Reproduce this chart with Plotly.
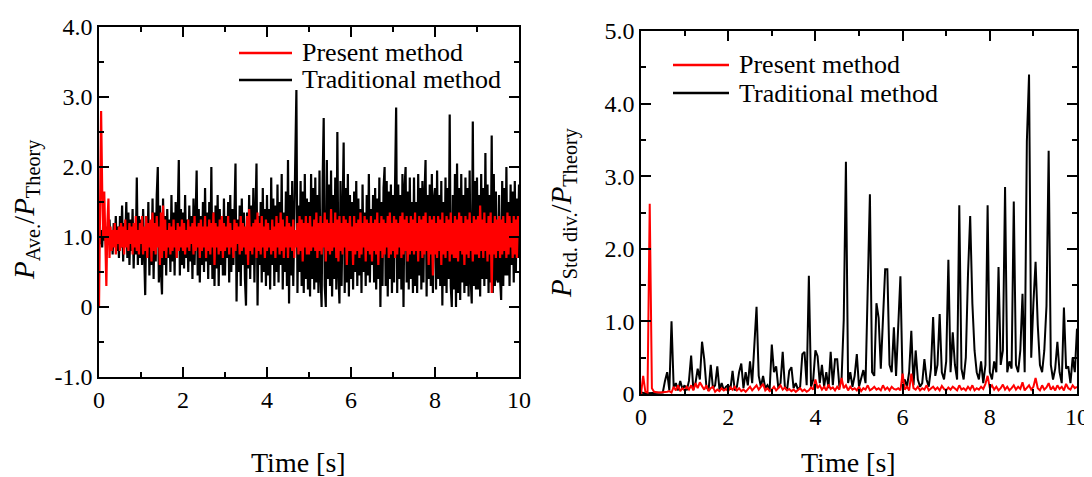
import numpy as np
import plotly.graph_objects as go

FONT = "Liberation Serif"

# ---------------- data ----------------
time_ave = np.linspace(0, 10, 401)  # sampling grid of the left panel, 0.025 s
time_std = np.linspace(0, 10, 201)  # sampling grid of the right panel, 0.05 s

ave_traditional = [
    1.0, 0.9, 1.1, 0.85, 1.2, 0.95, 1.05, 0.8, 1.15, 0.9, 1.25, 0.85, 1.1, 0.75, 1.2, 0.9, 1.3, 0.8, 1.15, 0.7,
    1.3, 0.85, 1.45, 0.65, 1.2, 0.9, 1.5, 0.7, 1.35, 0.6, 1.25, 0.8, 1.4, 0.55, 1.2, 0.75, 1.85, 0.6, 1.3, 0.7,
    1.25, 0.6, 1.4, 0.5, 0.17, 1.3, 0.7, 1.5, 0.45, 1.2, 0.6, 1.55, 0.4, 1.35, 0.65, 1.6, 2.0, 0.35, 1.45, 0.5,
    0.18, 1.55, 0.6, 1.3, 0.45, 1.4, 0.7, 1.25, 0.5, 1.6, 0.65, 1.35, 0.45, 1.5, 0.7, 1.3, 2.1, 0.45, 1.4, 0.6,
    1.35, 0.55, 1.6, 0.7, 1.25, 0.5, 1.45, 0.65, 1.3, 0.4, 1.55, 0.6, 1.2, 1.95, 0.45, 1.4, 0.35, 1.3, 0.6, 1.5,
    0.5, 1.7, 0.65, 1.35, 0.4, 1.5, 0.6, 2.0, 0.4, 1.35, 0.3, 1.45, 0.55, 1.6, 0.3, 1.4, 0.6, 1.3, 0.45, 1.55,
    0.45, 1.3, 0.7, 1.5, 0.35, 1.6, 0.5, 1.4, 0.6, 1.25, 2.05, 0.08, 1.25, 0.5, 1.45, 0.3, 1.55, 0.6, 1.35, 0.4,
    0.02, 1.35, 0.55, 1.6, 0.4, 1.45, 0.6, 1.7, 0.35, 1.3, 2.05, 0.02, 1.3, 0.6, 1.5, 0.35, 1.7, 0.5, 1.4, 0.3,
    1.6, 0.45, 1.4, 0.25, 1.85, 0.6, 1.55, 0.3, 1.45, 0.5, 1.75, 0.35, 1.5, 0.6, 1.9, 0.25, 1.35, 0.5, 1.65, 0.3,
    2.1, 0.05, 1.6, 0.45, 1.8, 0.3, 1.5, 2.5, 3.1, 0.2, 1.45, 0.5, 1.8, 0.3, 1.65, 0.2, 1.9, 0.4, 1.55, 0.25,
    1.5, 0.15, 1.9, 0.4, 1.7, 0.25, 1.85, 0.35, 1.6, 0.2, 1.95, 0.45, 0.0, 1.8, 2.7, 0.3, 0.0, 2.1, 0.4, 1.75,
    0.3, 1.95, 0.15, 1.6, 0.4, 1.85, 0.25, 2.5, 0.5, 0.05, 1.8, 0.3, 1.7, 2.35, 0.2, 1.7, 0.35, 1.9, 0.15, 1.6,
    0.4, 1.5, 0.25, 1.65, 0.5, 1.8, 0.3, 1.55, 0.45, 1.4, 0.2, 1.75, 0.5, 1.35, 0.3, 1.6, 0.45, 1.9, 0.35, 1.4,
    0.6, 1.6, 0.35, 1.7, 0.25, 1.55, 0.4, 1.85, 0.0, 1.5, 0.3, 1.7, 2.0, 0.3, 1.8, 0.15, 1.65, 0.4, 1.75, 0.2,
    1.6, 0.35, 1.8, 2.85, 0.2, 1.75, 0.4, 1.6, 0.25, 1.9, 0.0, 1.7, 2.0, 0.35, 1.65, 0.25, 1.85, 0.4, 1.5, 0.2,
    1.85, 0.3, 1.5, 0.2, 1.9, 0.45, 1.7, 0.25, 1.8, 0.35, 1.6, 2.1, 0.15, 1.6, 0.4, 1.75, 0.3, 1.9, 0.2, 1.55,
    1.7, 0.25, 1.95, 0.4, 1.6, 0.3, 1.8, 0.02, 1.5, 0.3, 1.85, 0.2, 1.7, 0.4, 2.75, 0.3, 0.0, 1.6, 0.25, 1.9,
    0.0, 2.05, 0.2, 1.7, 0.1, 1.9, 0.35, 1.6, 0.2, 1.85, 0.3, 1.7, 0.15, 1.95, 0.4, 0.05, 2.65, 0.3, 1.8, 0.25,
    1.85, 0.25, 1.6, 0.15, 1.9, 0.4, 1.7, 0.3, 2.2, 0.4, 1.75, 0.2, 1.6, 0.35, 2.45, 0.2, 1.9, 0.3, 1.65, 0.4,
    0.35, 1.6, 0.4, 0.1, 1.8, 0.3, 1.7, 0.45, 2.0, 0.45, 1.5, 0.3, 1.75, 0.6, 1.65, 0.35, 1.8, 0.5, 1.55, 0.7,
    1.75,
]

ave_present = [
    0.0, 1.8, 2.8, 1.7, 1.0, 1.65, 0.6, 0.3, 1.2, 1.55, 0.7, 1.15, 0.8, 1.1, 0.85, 1.2, 0.75, 1.1, 0.9, 1.15,
    0.8, 1.2, 0.85, 1.15, 0.75, 1.25, 0.85, 1.1, 0.8, 1.2, 0.9, 1.15, 0.75, 1.2, 0.85, 1.3, 0.8, 1.1, 0.75, 1.2,
    0.9, 1.3, 0.75, 1.15, 0.8, 1.3, 0.7, 1.2, 0.85, 1.25, 0.65, 1.35, 0.8, 1.2, 0.75, 1.3, 0.85, 1.15, 0.6, 1.35,
    0.7, 1.45, 0.8, 1.25, 0.7, 1.1, 0.85, 1.2, 0.75, 1.15, 0.8, 1.25, 0.85, 1.1, 0.7, 1.2, 0.8, 1.15, 0.85, 1.25,
    0.8, 1.2, 0.75, 1.1, 0.85, 1.25, 0.8, 1.15, 0.9, 1.2, 0.75, 1.3, 0.8, 1.15, 0.85, 1.2, 0.7, 1.25, 0.8, 1.15,
    0.85, 1.3, 0.7, 1.15, 0.8, 1.25, 0.75, 1.2, 0.85, 1.35, 0.6, 1.2, 0.85, 1.15, 0.75, 1.25, 0.8, 1.3, 0.7, 1.2,
    0.8, 1.15, 0.85, 1.3, 0.75, 1.2, 0.85, 1.1, 0.7, 1.25, 0.8, 1.2, 0.9, 1.15, 0.75, 1.3, 0.8, 1.2, 0.85, 1.15,
    0.75, 1.3, 0.6, 1.4, 0.8, 1.15, 0.75, 1.2, 0.85, 1.25, 0.7, 1.35, 0.8, 1.2, 0.75, 1.3, 0.85, 1.15, 0.7, 1.25,
    0.8, 1.2, 0.85, 1.1, 0.75, 1.25, 0.8, 1.15, 0.7, 1.3, 0.85, 1.2, 0.75, 1.35, 0.8, 1.25, 0.7, 1.15, 0.85, 1.3,
    0.7, 1.2, 0.85, 1.15, 0.8, 1.25, 0.7, 1.1, 0.85, 1.2, 0.75, 1.3, 0.8, 1.25, 0.65, 1.2, 0.85, 1.3, 0.75, 1.2,
    0.75, 1.3, 0.8, 1.15, 0.85, 1.25, 0.8, 1.35, 0.7, 1.2, 0.8, 1.3, 0.75, 1.2, 0.85, 1.35, 0.65, 1.25, 0.8, 1.2,
    0.75, 1.4, 0.8, 1.2, 0.85, 1.35, 0.7, 1.25, 0.65, 1.3, 0.8, 1.2, 0.75, 1.3, 0.85, 1.25, 0.6, 1.2, 0.8, 1.3,
    0.8, 1.15, 0.6, 1.3, 0.75, 1.2, 0.8, 1.25, 0.7, 1.35, 0.75, 1.2, 0.85, 1.3, 0.65, 1.25, 0.8, 1.2, 0.75, 1.3,
    0.65, 1.2, 0.8, 1.25, 0.75, 1.35, 0.6, 1.2, 0.8, 1.3, 0.7, 1.25, 0.75, 1.2, 0.85, 1.3, 0.7, 1.35, 0.75, 1.2,
    0.8, 1.3, 0.7, 1.25, 0.75, 1.2, 0.85, 1.3, 0.7, 1.35, 0.75, 1.25, 0.8, 1.3, 0.65, 1.2, 0.75, 1.3, 0.8, 1.25,
    0.75, 1.35, 0.8, 1.2, 0.65, 1.3, 0.8, 1.25, 0.7, 1.3, 0.75, 1.35, 0.8, 1.2, 0.6, 1.3, 0.75, 1.25, 0.45, 1.3,
    0.75, 1.2, 0.7, 1.3, 0.8, 1.25, 0.6, 1.35, 0.75, 1.2, 0.7, 1.3, 0.8, 1.25, 0.65, 1.35, 0.75, 1.2, 0.7, 1.3,
    0.7, 1.25, 0.65, 1.35, 0.8, 1.3, 0.75, 1.2, 0.6, 1.3, 0.75, 1.25, 0.7, 1.35, 0.8, 1.2, 0.65, 1.3, 0.75, 1.25,
    0.75, 1.3, 0.7, 1.45, 0.8, 1.25, 0.7, 1.35, 0.8, 1.2, 0.65, 1.3, 0.75, 1.35, 0.2, 1.2, 0.75, 1.3, 0.7, 1.25,
    0.8, 1.3, 0.7, 1.25, 0.75, 1.3, 0.8, 1.2, 0.7, 1.35, 0.75, 1.3, 0.85, 1.2, 0.7, 1.3, 0.75, 1.25, 0.7, 1.3,
    1.0,
]

std_traditional = [
    0.02, 0.01, 0.01, 0.01, 0.01, 0.01, 0.01, 0.01, 0.01, 0.01,
    0.02, 0.18, 0.3, 0.05, 1.0, 0.08, 0.15, 0.05, 0.18, 0.07,
    0.12, 0.05, 0.18, 0.53, 0.06, 0.15, 0.35, 0.2, 0.72, 0.48,
    0.1, 0.05, 0.4, 0.08, 0.12, 0.38, 0.06, 0.15, 0.05, 0.1,
    0.12, 0.06, 0.32, 0.05, 0.1, 0.3, 0.42, 0.08, 0.3, 0.12,
    0.45, 0.15, 0.7, 1.2, 0.25, 0.1, 0.25, 0.08, 0.12, 0.05,
    0.68, 0.3, 0.38, 0.08, 0.15, 0.58, 0.1, 0.05, 0.32, 0.37,
    0.08, 0.15, 0.06, 0.1, 0.55, 0.58, 0.12, 1.63, 0.1, 0.2,
    0.6, 0.52, 0.15, 0.4, 0.1, 0.3, 0.08, 0.58, 0.12, 0.48,
    0.48, 0.1, 0.2, 1.02, 3.2, 0.15, 0.3, 0.1, 0.25, 0.55,
    0.1, 0.2, 0.33, 0.15, 1.47, 2.75, 0.3, 0.25, 1.25, 1.05,
    0.35, 0.95, 1.72, 1.72, 0.4, 0.3, 0.92, 0.25, 0.9, 1.62,
    0.15, 0.2, 0.1, 0.3, 0.87, 0.12, 0.6, 0.2, 0.1, 0.15,
    0.48, 0.2, 0.1, 0.35, 1.06, 0.25, 0.4, 1.1, 0.3, 0.2,
    0.45, 1.85, 0.3, 0.85, 0.4, 0.2, 2.6, 0.35, 0.2, 0.5,
    1.65, 2.45, 1.25, 0.6, 0.3, 0.2, 0.45, 0.15, 0.4, 2.6,
    0.3, 0.2, 0.45, 0.3, 1.75, 0.4, 0.6, 2.85, 0.3, 0.45,
    0.35, 2.65, 0.4, 0.3, 0.6, 1.38, 0.3, 3.48, 4.4, 0.5,
    1.25, 1.82, 0.95, 0.4, 0.3, 0.6, 1.21, 3.35, 0.4, 0.2,
    0.35, 0.72, 0.3, 0.15, 1.19, 0.35, 0.38, 0.15, 0.5, 0.3,
    0.9,
]

std_present = [
    0.0, 0.25, 0.03, 0.02, 2.62, 0.08, 0.03, 0.02, 0.02, 0.02,
    0.02, 0.02, 0.03, 0.04, 0.02, 0.1, 0.05, 0.12, 0.04, 0.08,
    0.05, 0.1, 0.06, 0.12, 0.05, 0.15, 0.08, 0.16, 0.1, 0.06,
    0.12, 0.04, 0.08, 0.1, 0.03, 0.06, 0.04, 0.08, 0.05, 0.07,
    0.04, 0.09, 0.06, 0.1, 0.05, 0.08, 0.04, 0.06, 0.03, 0.07,
    0.1, 0.05, 0.08, 0.12, 0.06, 0.1, 0.14, 0.05, 0.08, 0.04,
    0.06, 0.1, 0.05, 0.08, 0.12, 0.06, 0.09, 0.05, 0.07, 0.04,
    0.06, 0.03, 0.05, 0.08, 0.04, 0.06, 0.03, 0.05, 0.09, 0.06,
    0.2, 0.08, 0.12, 0.06, 0.1, 0.05, 0.13, 0.07, 0.09, 0.05,
    0.1, 0.06, 0.22, 0.08, 0.12, 0.05, 0.1, 0.06, 0.08, 0.05,
    0.1, 0.04, 0.08, 0.06, 0.12, 0.05, 0.07, 0.1, 0.06, 0.08,
    0.05, 0.12, 0.06, 0.09, 0.05, 0.1, 0.07, 0.06, 0.08, 0.05,
    0.28, 0.06, 0.1, 0.05, 0.28, 0.08, 0.06, 0.1, 0.05, 0.08,
    0.06, 0.12, 0.05, 0.08, 0.1, 0.06, 0.09, 0.05, 0.11, 0.07,
    0.05, 0.09, 0.06, 0.1, 0.07, 0.05, 0.12, 0.06, 0.08, 0.05,
    0.1, 0.06, 0.12, 0.05, 0.08, 0.06, 0.1, 0.07, 0.14, 0.25,
    0.08, 0.12, 0.06, 0.1, 0.05, 0.08, 0.13, 0.06, 0.1, 0.05,
    0.08, 0.12, 0.06, 0.1, 0.07, 0.16, 0.05, 0.09, 0.12, 0.06,
    0.1, 0.22, 0.08, 0.05, 0.12, 0.06, 0.09, 0.15, 0.06, 0.1,
    0.05, 0.12, 0.07, 0.1, 0.05, 0.14, 0.08, 0.06, 0.12, 0.08,
    0.1,
]

series_names = ["Present method", "Traditional method"]
x_tickvals = [0, 2, 4, 6, 8, 10]
x_ticktext = ["0", "2", "4", "6", "8", "10"]
y1_tickvals = [-1, 0, 1, 2, 3, 4]
y1_ticktext = ["-1.0", "0", "1.0", "2.0", "3.0", "4.0"]
y2_tickvals = [0, 1, 2, 3, 4, 5]
y2_ticktext = ["0", "1.0", "2.0", "3.0", "4.0", "5.0"]

# ---------------- figure ----------------
W, H = 1092, 477
OFF = 8  # the page places the figure 8 px from the top-left corner
RED = "#ff0000"
BLACK = "#000000"

fig = go.Figure()
fig.add_trace(go.Scatter(x=time_ave, y=ave_traditional, mode="lines", name=series_names[1],
                         line=dict(color=BLACK, width=2.2), xaxis="x", yaxis="y", showlegend=False))
fig.add_trace(go.Scatter(x=time_ave, y=ave_present, mode="lines", name=series_names[0],
                         line=dict(color=RED, width=2.2), xaxis="x", yaxis="y", showlegend=False))
fig.add_trace(go.Scatter(x=time_std, y=std_traditional, mode="lines", name=series_names[1],
                         line=dict(color=BLACK, width=2), xaxis="x2", yaxis="y2", showlegend=False))
fig.add_trace(go.Scatter(x=time_std, y=std_present, mode="lines", name=series_names[0],
                         line=dict(color=RED, width=2), xaxis="x2", yaxis="y2", showlegend=False))


def px_x(p):
    return (p - OFF) / W


def px_y(p):
    return 1 - (p - OFF) / H


def axis(domain, rng, anchor, tickvals, ticktext, minor_dtick):
    return dict(
        domain=domain, range=rng, anchor=anchor,
        tickmode="array", tickvals=tickvals, ticktext=ticktext,
        showline=True, linecolor=BLACK, linewidth=1.5, mirror="allticks",
        ticks="inside", ticklen=10, tickwidth=1.5, tickcolor=BLACK,
        showgrid=False, zeroline=False,
        tickfont=dict(family=FONT, size=24, color=BLACK),
        minor=dict(ticks="inside", dtick=minor_dtick, tick0=0, ticklen=5,
                   tickwidth=1.5, tickcolor=BLACK, showgrid=False),
    )


fig.update_layout(
    width=W, height=H,
    margin=dict(l=0, r=0, t=0, b=0, autoexpand=False),
    paper_bgcolor="white", plot_bgcolor="white",
    font=dict(family=FONT, size=24, color=BLACK),
    showlegend=False,
    xaxis=axis([px_x(99), px_x(519)], [0, 10], "y", x_tickvals, x_ticktext, 1),
    yaxis=axis([px_y(377), px_y(27)], [-1, 4], "x", y1_tickvals, y1_ticktext, 0.5),
    xaxis2=axis([px_x(641), px_x(1077)], [0, 10], "y2", x_tickvals, x_ticktext, 1),
    yaxis2=axis([px_y(394), px_y(31)], [0, 5], "x2", y2_tickvals, y2_ticktext, 0.5),
)

# legends (line sample + label) for each panel
legend_font = dict(family=FONT, size=26, color=BLACK)
legend_specs = [
    # (line x0, line x1, text x, row y's)
    (239, 292, 300, [53, 80]),
    (673, 729, 737, [65, 93]),
]
for lx0, lx1, tx, rows in legend_specs:
    for name, color, ry in zip(series_names, [RED, BLACK], rows):
        fig.add_shape(type="line", xref="paper", yref="paper",
                      x0=px_x(lx0), x1=px_x(lx1), y0=px_y(ry), y1=px_y(ry),
                      line=dict(color=color, width=2.5))
        fig.add_annotation(text=name, x=px_x(tx), y=px_y(ry), xref="paper", yref="paper",
                           showarrow=False, font=legend_font, xanchor="left", yanchor="middle")

title_font = dict(family=FONT, size=28, color=BLACK)
ytitle_font = dict(family=FONT, size=29, color=BLACK)
fig.add_annotation(text="Time [s]", x=px_x(298), y=px_y(462), xref="paper", yref="paper",
                   showarrow=False, font=title_font, xanchor="center", yanchor="middle")
fig.add_annotation(text="Time [s]", x=px_x(848), y=px_y(462), xref="paper", yref="paper",
                   showarrow=False, font=title_font, xanchor="center", yanchor="middle")
fig.add_annotation(text="<i>P</i><sub>Ave.</sub>/<i>P</i><sub>Theory</sub>",
                   x=px_x(26), y=px_y(210), xref="paper", yref="paper", textangle=-90,
                   showarrow=False, font=ytitle_font, xanchor="center", yanchor="middle")
fig.add_annotation(text="<i>P</i><sub>Std. div.</sub>/<i>P</i><sub>Theory</sub>",
                   x=px_x(563), y=px_y(213), xref="paper", yref="paper", textangle=-90,
                   showarrow=False, font=ytitle_font, xanchor="center", yanchor="middle")

fig.write_html("out.html")
